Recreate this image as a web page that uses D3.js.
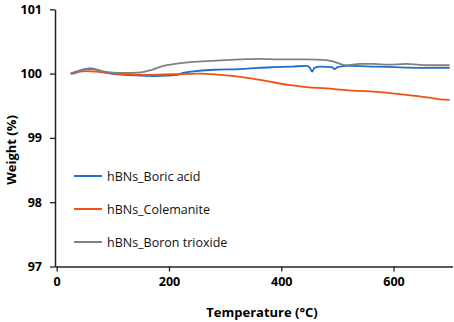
<!DOCTYPE html>
<html>
<head>
<meta charset="utf-8">
<script src="https://cdn.jsdelivr.net/npm/d3@7"></script>
<style>
  body { margin: 0; background: #fff; }
  svg { display: block; }
  .tick text { font-family: "Open Sans", sans-serif; font-weight: bold; font-size: 12.5px; fill: #000; }
</style>
</head>
<body>
<svg id="chart" width="454" height="322"></svg>
<script>
// Series: [temperature °C, weight %]
const boricAcid = [
  [25, 100.0], [35, 100.03], [50, 100.07], [60, 100.08], [75, 100.05], [90, 100.01],
  [120, 99.98], [150, 99.97], [178, 99.96], [200, 99.97], [215, 99.98], [225, 100.01],
  [240, 100.03], [280, 100.06], [327, 100.07], [360, 100.09], [386, 100.1], [420, 100.11],
  [445, 100.12], [451, 100.09], [455, 100.03], [459, 100.09], [470, 100.11], [490, 100.1],
  [495, 100.07], [500, 100.1], [520, 100.12], [564, 100.11], [600, 100.1], [650, 100.09],
  [700, 100.09]
];
const colemanite = [
  [25, 100.0], [35, 100.02], [54, 100.04], [70, 100.03], [89, 100.01], [120, 99.99],
  [160, 99.98], [208, 99.99], [255, 100.0], [290, 99.98], [327, 99.95], [370, 99.89],
  [416, 99.82], [445, 99.79], [480, 99.77], [520, 99.74], [564, 99.72], [623, 99.67],
  [660, 99.63], [683, 99.6], [700, 99.59]
];
const boronTrioxide = [
  [25, 100.0], [30, 100.0], [40, 100.04], [55, 100.07], [65, 100.07], [80, 100.04],
  [95, 100.02], [120, 100.01], [150, 100.02], [170, 100.06], [190, 100.12], [210, 100.15],
  [238, 100.18], [260, 100.19], [300, 100.21], [327, 100.22], [360, 100.23], [400, 100.22],
  [446, 100.22], [480, 100.21], [492, 100.19], [505, 100.15], [515, 100.13], [540, 100.15],
  [564, 100.15], [590, 100.14], [623, 100.15], [660, 100.13], [700, 100.13]
];
const seriesNames = ["hBNs_Boric acid", "hBNs_Colemanite", "hBNs_Boron trioxide"];
const seriesColors = ["#1f6fc8", "#f2500f", "#808080"];
const xTicks = [0, 200, 400, 600];
const yTicks = [97, 98, 99, 100, 101];

const svg = d3.select("#chart");

const x = d3.scaleLinear().domain([-3, 705]).range([55, 452.5]);
const y = d3.scaleLinear().domain([97, 101]).range([266.5, 9.3]);

// axes
const xAxis = svg.append("g")
  .attr("transform", `translate(0,${y(97)})`)
  .call(d3.axisBottom(x).tickValues(xTicks).tickSizeInner(5).tickSizeOuter(0).tickPadding(6));
const yAxis = svg.append("g")
  .attr("transform", `translate(${x(-3)},0)`)
  .call(d3.axisLeft(y).tickValues(yTicks).tickFormat(d3.format("d"))
    .tickSizeInner(5).tickSizeOuter(0).tickPadding(8));

[xAxis, yAxis].forEach(g => {
  g.select(".domain").attr("stroke", "#222").attr("stroke-width", 1.5);
  g.selectAll(".tick line").attr("stroke", "#222").attr("stroke-width", 1.3);
});

// lines
const line = d3.line().x(d => x(d[0])).y(d => y(d[1])).curve(d3.curveMonotoneX);
[boricAcid, colemanite, boronTrioxide].forEach((s, i) => {
  svg.append("path")
    .datum(s)
    .attr("fill", "none")
    .attr("stroke", seriesColors[i])
    .attr("stroke-width", 1.8)
    .attr("d", line);
});

// legend
const legend = svg.append("g");
seriesNames.forEach((name, i) => {
  const ly = 176 + i * 33;
  legend.append("line")
    .attr("x1", 74).attr("x2", 102).attr("y1", ly).attr("y2", ly)
    .attr("stroke", seriesColors[i]).attr("stroke-width", 2);
  legend.append("text")
    .attr("x", 107).attr("y", ly + 4.5)
    .attr("font-family", "Open Sans, sans-serif")
    .attr("font-size", 12.5)
    .attr("fill", "#111")
    .text(name);
});

// axis titles
svg.append("text")
  .attr("x", 262).attr("y", 317)
  .attr("text-anchor", "middle")
  .attr("font-family", "Open Sans, sans-serif")
  .attr("font-weight", "bold")
  .attr("font-size", 13)
  .text("Temperature (°C)");

svg.append("text")
  .attr("transform", "translate(16,150) rotate(-90)")
  .attr("text-anchor", "middle")
  .attr("font-family", "Open Sans, sans-serif")
  .attr("font-weight", "bold")
  .attr("font-size", 13)
  .text("Weight (%)");
</script>
</body>
</html>
